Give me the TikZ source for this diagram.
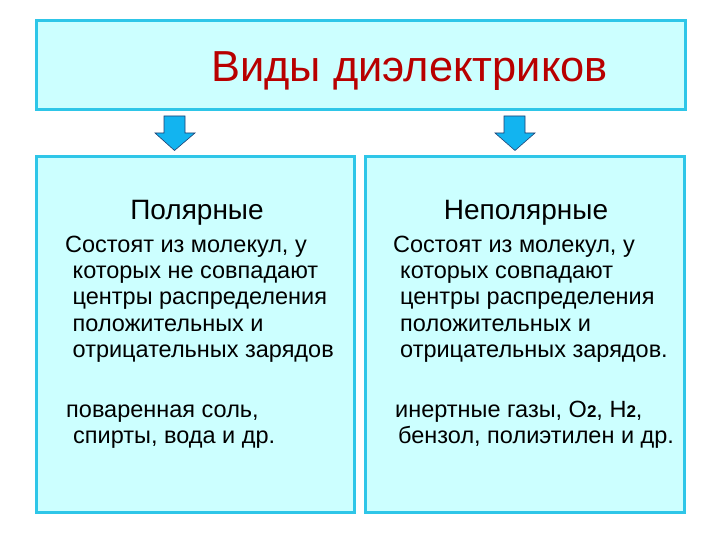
\documentclass[tikz,border=0pt]{standalone}
\usepackage{fontspec}
\setmainfont{Liberation Sans}
\begin{document}
\begin{tikzpicture}[x=1pt,y=-1pt,
  panel/.style={draw=cyanborder,line width=3pt,fill=cyanfill},
  downarrow/.style={fill=arrowblue,draw=arrowline,line width=0.6pt,line join=miter},
  body/.style={anchor=base west,inner sep=0pt,font=\fontsize{23.5}{27}\selectfont},
  head/.style={anchor=base,inner sep=0pt,font=\fontsize{28}{32}\selectfont}]
\definecolor{cyanfill}{HTML}{CCFFFF}
\definecolor{cyanborder}{HTML}{2EC6E8}
\definecolor{titlered}{HTML}{B80000}
\definecolor{arrowblue}{HTML}{12B4F0}
\definecolor{arrowline}{HTML}{1F3F70}
\useasboundingbox (0,0) rectangle (720,540);
\fill[white] (0,0) rectangle (720,540);
% boxes
\draw[panel] (36.7,20.7) rectangle (685,109.7);
\draw[panel] (36.7,156.7) rectangle (354,512);
\draw[panel] (365.5,156.7) rectangle (684,512);
% title
\node[anchor=base,inner sep=0pt,text=titlered,font=\fontsize{43.4}{48}\selectfont] (title) at (409.5,82) {Виды диэлектриков};
% arrows
\draw[downarrow] (164,116) -- (185,116) -- (185,133) -- (195,133) -- (174.5,150.5) -- (155,133) -- (164,133) -- cycle;
\draw[downarrow] (504,116) -- (525,116) -- (525,133) -- (535,133) -- (515,150.5) -- (495,133) -- (504,133) -- cycle;
% left column
\node[head] (lh) at (197,220) {Полярные};
\node[body] (l1) at (65,252) {Состоят из молекул, у};
\node[body] (l2) at (72.5,278) {которых не совпадают};
\node[body] (l3) at (72.5,304.5) {центры распределения};
\node[body] (l4) at (72.5,331) {положительных и};
\node[body] (l5) at (72.5,357) {отрицательных зарядов};
\node[body] (l6) at (66,417) {поваренная соль,};
\node[body] (l7) at (73,443) {спирты, вода и др.};
% right column
\node[head] (rh) at (526,220) {Неполярные};
\node[body] (r1) at (393,252) {Состоят из молекул, у};
\node[body] (r2) at (400,278) {которых совпадают};
\node[body] (r3) at (400,304.5) {центры распределения};
\node[body] (r4) at (400,331) {положительных и};
\node[body] (r5) at (400,357) {отрицательных зарядов.};
\node[body] (r6) at (395,417) {инертные газы, O{\fontsize{17}{17}\selectfont\bfseries 2}, H{\fontsize{17}{17}\selectfont\bfseries 2},};
\node[body] (r7) at (398,443) {бензол, полиэтилен и др.};
\end{tikzpicture}
\end{document}
